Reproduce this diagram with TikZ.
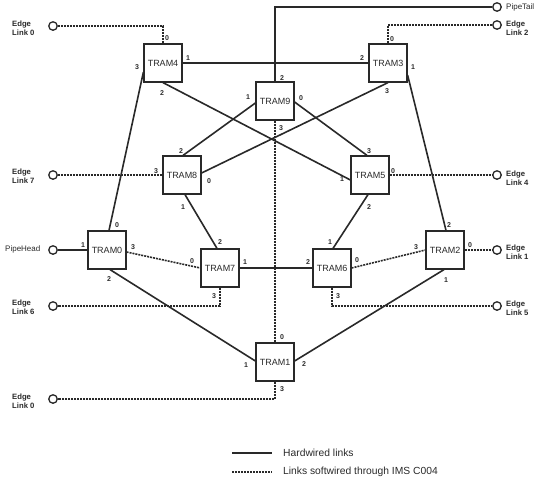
\documentclass[tikz,border=0pt]{standalone}
\usepackage{fontspec}
\setmainfont{Liberation Sans}
\usetikzlibrary{calc}
\definecolor{ink}{gray}{0.16}
\begin{document}
\begin{tikzpicture}[x=1pt,y=-1pt,
  tram/.style={draw=ink, line width=1.2pt, minimum width=38pt, minimum height=38pt, inner sep=0pt, fill=white, text=ink, font=\fontsize{9}{10}\selectfont},
  hard/.style={draw=ink, line width=1.6pt},
  soft/.style={draw=ink, line width=1.6pt, dash pattern=on 2pt off 1pt},
  term/.style={circle, draw=ink, line width=1.3pt, minimum size=8.5pt, inner sep=0pt, fill=white},
  port/.style={font=\fontsize{7}{8}\selectfont\bfseries, inner sep=0pt, text=ink},
  elab/.style={font=\fontsize{7.7}{8.7}\selectfont\bfseries, align=left, anchor=west, inner sep=0pt, text=ink},
  plab/.style={font=\fontsize{8}{9}\selectfont, anchor=west, inner sep=0pt, text=ink},
  leg/.style={font=\fontsize{10.3}{11}\selectfont, anchor=west, inner sep=0pt, text=ink}]
\useasboundingbox (0,0) rectangle (540,483);
% TRAM boxes
\node[tram] (t4) at (163,63) {TRAM4};
\node[tram] (t3) at (388,63) {TRAM3};
\node[tram] (t9) at (275,101) {TRAM9};
\node[tram] (t8) at (182,175) {TRAM8};
\node[tram] (t5) at (370,175) {TRAM5};
\node[tram] (t0) at (107,250) {TRAM0};
\node[tram] (t7) at (220,268) {TRAM7};
\node[tram] (t6) at (332,268) {TRAM6};
\node[tram] (t2) at (445,250) {TRAM2};
\node[tram] (t1) at (275,362) {TRAM1};
% terminals
\node[term] (e0t) at (53,26) {};
\node[term] (ptail) at (497,7) {};
\node[term] (e2) at (497,25) {};
\node[term] (e7) at (53,175) {};
\node[term] (e4) at (497,175) {};
\node[term] (ph) at (53,250) {};
\node[term] (e1) at (497,250) {};
\node[term] (e6) at (53,306) {};
\node[term] (e5) at (497,306) {};
\node[term] (e0b) at (53,399) {};
% terminal labels
\node[elab] (le0t) at (12,28.5) {Edge\\Link 0};
\node[plab] (lpt) at (506,7) {PipeTail};
\node[elab] (le2) at (506,28) {Edge\\Link 2};
\node[elab] (le7) at (12,176.5) {Edge\\Link 7};
\node[elab] (le4) at (506,178) {Edge\\Link 4};
\node[plab] (lph) at (5,249) {PipeHead};
\node[elab] (le1) at (506,252) {Edge\\Link 1};
\node[elab] (le6) at (12,307.5) {Edge\\Link 6};
\node[elab] (le5) at (506,308) {Edge\\Link 5};
\node[elab] (le0b) at (12,401.5) {Edge\\Link 0};
% softwired links
\draw[soft] (e0t) -| (t4.north);
\draw[soft] (e2) -| (t3.north);
\draw[soft] (e7) -- (t8.west);
\draw[soft] (t5.east) -- (e4);
\draw[soft] (t2.east) -- (e1);
\draw[soft] (t7.south) |- (e6);
\draw[soft] (t6.south) |- (e5);
\draw[soft] (t1.south) |- (e0b);
\draw[soft] (t9.south) -- (t1.north);
\draw[soft] ($(t0.east)+(0,2)$) -- (t7.west);
\draw[soft] (t6.east) -- (t2.west);
% hardwired links
\draw[hard] (ptail) -| (t9.north);
\draw[hard] (ph) -- (t0.west);
\draw[hard] (t4.east) -- (t3.west);
\draw[hard] ($(t4.west)+(0,9)$) -- ($(t0.north)+(2,0)$);
\draw[hard] (t4.south) -- ($(t5.west)+(0,5)$);
\draw[hard] (t3.south) -- ($(t8.east)+(0,-2)$);
\draw[hard] ($(t3.east)+(0,12)$) -- ($(t2.north)+(1,0)$);
\draw[hard] ($(t9.west)+(0,2)$) -- ($(t8.north)+(1,0)$);
\draw[hard] ($(t9.east)+(0,1)$) -- ($(t5.north)+(-3,0)$);
\draw[hard] ($(t8.south)+(3,0)$) -- ($(t7.north)+(-3,0)$);
\draw[hard] ($(t5.south)+(-2,0)$) -- ($(t6.north)+(1,0)$);
\draw[hard] ($(t0.south)+(3,0)$) -- ($(t1.west)+(0,-1)$);
\draw[hard] (t7.east) -- (t6.west);
\draw[hard] ($(t2.south)+(-1,0)$) -- ($(t1.east)+(0,-1)$);
% port numbers
\node[port] at (167,38) {0};
\node[port] at (188,58) {1};
\node[port] at (137,67) {3};
\node[port] at (162,93) {2};
\node[port] at (392,39) {0};
\node[port] at (362,58) {2};
\node[port] at (413,67) {1};
\node[port] at (387,91) {3};
\node[port] at (282,78) {2};
\node[port] at (248,97) {1};
\node[port] at (301,98) {0};
\node[port] at (281,128) {3};
\node[port] at (181,151) {2};
\node[port] at (156,171) {3};
\node[port] at (209,181) {0};
\node[port] at (183,207) {1};
\node[port] at (369,151) {3};
\node[port] at (342,179) {1};
\node[port] at (393,171) {0};
\node[port] at (369,207) {2};
\node[port] at (117,225) {0};
\node[port] at (83,245) {1};
\node[port] at (133,247) {3};
\node[port] at (109,279) {2};
\node[port] at (192,261) {0};
\node[port] at (220,242) {2};
\node[port] at (245,262) {1};
\node[port] at (214,296) {3};
\node[port] at (330,242) {1};
\node[port] at (308,262) {2};
\node[port] at (357,260) {0};
\node[port] at (338,296) {3};
\node[port] at (449,225) {2};
\node[port] at (416,247) {3};
\node[port] at (470,245) {0};
\node[port] at (446,280) {1};
\node[port] at (282,337) {0};
\node[port] at (246,365) {1};
\node[port] at (304,364) {2};
\node[port] at (282,389) {3};
% legend
\coordinate (la1) at (232,453);
\coordinate (lb1) at (272,453);
\coordinate (la2) at (232,472);
\coordinate (lb2) at (272,472);
\draw[hard, line width=1.2pt] (la1) -- (lb1);
\draw[soft, line width=1.2pt] (la2) -- (lb2);
\node[leg] (lt1) at (283,453) {Hardwired links};
\node[leg] (lt2) at (283,472) {Links softwired through IMS C004};
\end{tikzpicture}
\end{document}
